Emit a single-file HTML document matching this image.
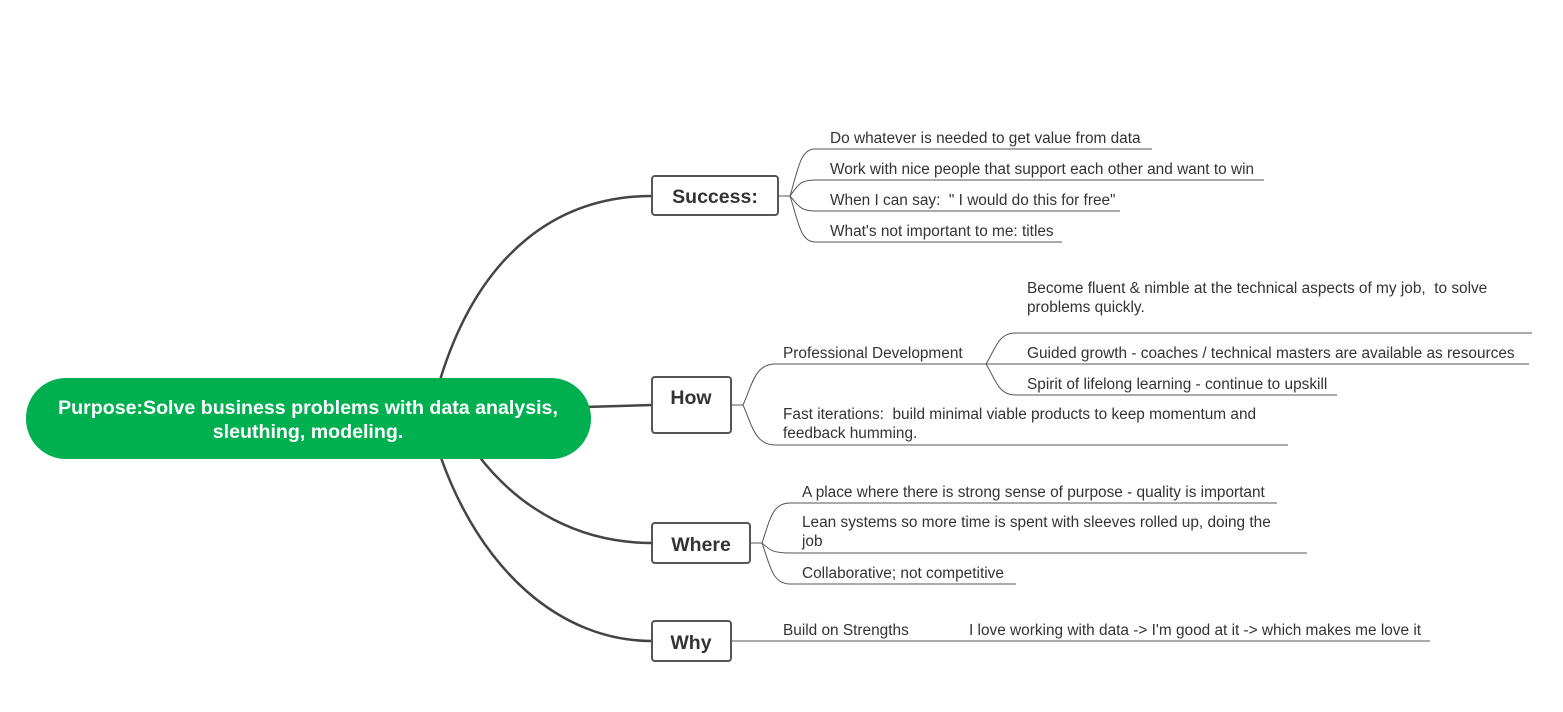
<!DOCTYPE html>
<html><head><meta charset="utf-8"><style>
html,body{margin:0;padding:0;background:#fff;}
svg{display:block;}
text{font-family:"Liberation Sans",Arial,sans-serif;white-space:pre;}
.t{font-size:15.4px;fill:#333;}
.b{font-size:19.5px;font-weight:bold;fill:#333;text-anchor:middle;}
</style></head><body>
<svg width="1563" height="712" viewBox="0 0 1563 712" xmlns="http://www.w3.org/2000/svg">
<g fill="none" stroke="#444" stroke-width="2.5">
<path d="M440,380 C480,250 560,196 652,196"/>
<path d="M585,407 L652,405"/>
<path d="M478,455 C520,510 580,543 652,543"/>
<path d="M440,455 C480,570 560,641 652,641"/>
</g>
<rect x="26" y="378" width="565" height="81" rx="40" fill="#00b050"/>
<text x="308" y="414" text-anchor="middle" fill="#fff" font-size="19.6" font-weight="bold">Purpose:Solve business problems with data analysis,</text>
<text x="308" y="438" text-anchor="middle" fill="#fff" font-size="19.6" font-weight="bold">sleuthing, modeling.</text>
<g fill="#fff" stroke="#555" stroke-width="2">
<rect x="652" y="176" width="126" height="39" rx="3"/>
<rect x="652" y="377" width="79" height="56" rx="3"/>
<rect x="652" y="523" width="98" height="40" rx="3"/>
<rect x="652" y="621" width="79" height="40" rx="3"/>
</g>
<text class="b" x="715" y="203">Success:</text>
<text class="b" x="691" y="404">How</text>
<text class="b" x="701" y="551">Where</text>
<text class="b" x="691" y="649">Why</text>
<g fill="none" stroke="#555" stroke-width="1">
<path d="M778,196 H790"/>
<path d="M790,196 C798,170 800,149 815,149 H1152"/>
<path d="M790,196 C798,185 800,180 815,180 H1264"/>
<path d="M790,196 C798,205 800,211 815,211 H1120"/>
<path d="M790,196 C798,220 800,242 815,242 H1062"/>
<path d="M731,405 H743"/>
<path d="M743,405 C752,385 755,364 775,364 H986"/>
<path d="M743,405 C752,425 755,445 775,445 H1288"/>
<path d="M986,364 C995,350 998,333 1015,333 H1532"/>
<path d="M986,364 H1529"/>
<path d="M986,364 C995,378 998,395 1015,395 H1337"/>
<path d="M750,543 H762"/>
<path d="M762,543 C770,520 772,503 790,503 H1277"/>
<path d="M762,543 C770,550 772,553 790,553 H1307"/>
<path d="M762,543 C770,565 772,584 790,584 H1016"/>
<path d="M731,641 H1430"/>
</g>
<text class="t" x="830" y="143">Do whatever is needed to get value from data</text>
<text class="t" x="830" y="174">Work with nice people that support each other and want to win</text>
<text class="t" x="830" y="205">When I can say:  " I would do this for free"</text>
<text class="t" x="830" y="236">What's not important to me: titles</text>
<text class="t" x="783" y="358">Professional Development</text>
<text class="t" x="1027" y="293">Become fluent &amp; nimble at the technical aspects of my job,  to solve</text>
<text class="t" x="1027" y="312">problems quickly.</text>
<text class="t" x="1027" y="358">Guided growth - coaches / technical masters are available as resources</text>
<text class="t" x="1027" y="389">Spirit of lifelong learning - continue to upskill</text>
<text class="t" x="783" y="419">Fast iterations:  build minimal viable products to keep momentum and</text>
<text class="t" x="783" y="438">feedback humming.</text>
<text class="t" x="802" y="497">A place where there is strong sense of purpose - quality is important</text>
<text class="t" x="802" y="527">Lean systems so more time is spent with sleeves rolled up, doing the</text>
<text class="t" x="802" y="546">job</text>
<text class="t" x="802" y="578">Collaborative; not competitive</text>
<text class="t" x="783" y="635">Build on Strengths</text>
<text class="t" x="969" y="635">I love working with data -&gt; I'm good at it -&gt; which makes me love it</text>
</svg>
</body></html>
